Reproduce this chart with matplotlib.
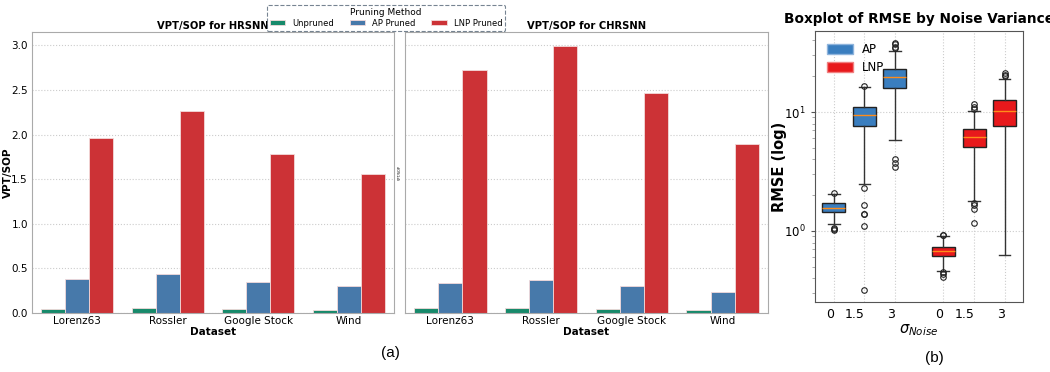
import matplotlib.pyplot as plt
import numpy as np
from matplotlib.patches import Patch

# ---- data: VPT/SOP bar charts ----
datasets = ["Lorenz63", "Rossler", "Google Stock", "Wind"]
methods = ["Unpruned", "AP Pruned", "LNP Pruned"]
hrsnn_unpruned = [0.05, 0.06, 0.045, 0.035]
hrsnn_ap = [0.38, 0.44, 0.345, 0.30]
hrsnn_lnp = [1.96, 2.27, 1.78, 1.56]
chrsnn_unpruned = [0.052, 0.059, 0.048, 0.033]
chrsnn_ap = [0.333, 0.37, 0.305, 0.23]
chrsnn_lnp = [2.72, 2.99, 2.47, 1.89]

# ---- data: RMSE boxplot ----
noise_labels = ["0", "1.5", "3"]
ap_q1 = [1.45, 7.6, 15.9]
ap_med = [1.57, 9.4, 19.8]
ap_q3 = [1.71, 11.1, 23.1]
ap_whislo = [1.15, 2.48, 5.8]
ap_whishi = [2.05, 16.1, 32.7]
ap_fliers = [[2.07, 1.07, 1.04, 1.02],
             [16.6, 2.31, 1.66, 1.38, 1.38, 1.10, 0.32],
             [38.2, 37.1, 35.5, 34.3, 4.05, 3.7, 3.47]]
lnp_q1 = [0.62, 5.05, 7.63]
lnp_med = [0.68, 6.16, 10.2]
lnp_q3 = [0.74, 7.24, 12.6]
lnp_whislo = [0.464, 1.80, 0.625]
lnp_whishi = [0.908, 10.3, 18.9]
lnp_fliers = [[0.93, 0.92, 0.452, 0.433, 0.413],
              [11.6, 11.1, 10.7, 1.73, 1.66, 1.53, 1.16],
              [21.4, 20.6, 19.9]]

W, H = 1050, 372
fig = plt.figure(figsize=(W / 100, H / 100), dpi=100)


def ax_rect(left, top, right, bottom):
    return [left / W, 1 - bottom / H, (right - left) / W, (bottom - top) / H]


bar_colors = ["#178a6b", "#4779aa", "#cc3236"]
x = np.arange(len(datasets))
bw = 0.8 / 3


def bar_panel(ax, series, title, tiny_ylabel=False):
    for i, (vals, c, lab) in enumerate(zip(series, bar_colors, methods)):
        ax.bar(x + (i - 1) * bw, vals, bw, color=c, edgecolor="#f3dada",
               linewidth=0.6, label=lab, zorder=2)
    ax.set_xlim(-0.5, 3.5)
    ax.set_ylim(0, 3.15)
    ax.set_yticks(np.arange(0, 3.01, 0.5))
    ax.set_xticks(x)
    ax.set_xticklabels(datasets, fontsize=7.5)
    ax.tick_params(axis="y", labelsize=7.5, length=0, pad=3)
    ax.tick_params(axis="x", length=0, pad=2)
    ax.grid(axis="y", ls=":", color="#cccccc", lw=0.8, zorder=0)
    for s in ax.spines.values():
        s.set_color("#aaaaaa")
    ax.set_xlabel("Dataset", fontsize=7.5, fontweight="bold", labelpad=1)
    ax.set_title(title, fontsize=7.2, fontweight="bold", pad=2)
    if tiny_ylabel:
        ax.set_ylabel("VPT/SOP", fontsize=2.5, labelpad=2)
        ax.tick_params(axis="y", labelleft=False)
    else:
        ax.set_ylabel("VPT/SOP", fontsize=7.5, fontweight="bold")
        ax.yaxis.set_label_coords(-19 / 362, 0.5)


ax1 = fig.add_axes(ax_rect(32, 32, 394, 313))
bar_panel(ax1, [hrsnn_unpruned, hrsnn_ap, hrsnn_lnp], "VPT/SOP for HRSNN")
ax2 = fig.add_axes(ax_rect(405, 32, 768, 313))
bar_panel(ax2, [chrsnn_unpruned, chrsnn_ap, chrsnn_lnp], "VPT/SOP for CHRSNN",
          tiny_ylabel=True)

handles, labels = ax1.get_legend_handles_labels()
leg = fig.legend(handles, labels, title="Pruning Method", ncol=3,
                 loc="upper center", bbox_to_anchor=(386 / W, 1 - 1 / H),
                 fontsize=6, title_fontsize=6.5, frameon=True, fancybox=True,
                 handlelength=1.9, handleheight=0.6, columnspacing=1.9,
                 borderpad=0.35, labelspacing=0.2, handletextpad=0.8)
leg.get_frame().set_linestyle("--")
leg.get_frame().set_edgecolor("#556677")
leg.get_frame().set_linewidth(0.8)

# ---- boxplot ----
ax3 = fig.add_axes(ax_rect(815, 31, 1023, 302))
ap_color = "#3a7ebf"
lnp_color = "#e8191c"
ap_pos = [1.0, 2.0, 3.0]
lnp_pos = [4.58, 5.6, 6.6]


def make_stats(q1, med, q3, lo, hi, fl):
    return [dict(q1=a, med=b, q3=c, whislo=d, whishi=e, fliers=f)
            for a, b, c, d, e, f in zip(q1, med, q3, lo, hi, fl)]


for stats, pos, col in [
    (make_stats(ap_q1, ap_med, ap_q3, ap_whislo, ap_whishi, ap_fliers), ap_pos, ap_color),
    (make_stats(lnp_q1, lnp_med, lnp_q3, lnp_whislo, lnp_whishi, lnp_fliers), lnp_pos, lnp_color),
]:
    ax3.bxp(stats, positions=pos, widths=0.75, patch_artist=True,
            boxprops=dict(facecolor=col, edgecolor="#222222", linewidth=1),
            medianprops=dict(color="#ff8c1a", linewidth=1),
            whiskerprops=dict(color="#333333", linewidth=1),
            capprops=dict(color="#333333", linewidth=1),
            flierprops=dict(marker="o", markerfacecolor="none",
                            markeredgecolor="#222222", markersize=4, markeredgewidth=0.8))

ax3.set_yscale("log")
ax3.set_ylim(0.253, 48)
ax3.set_xlim(0.38, 7.2)
ax3.set_xticks(ap_pos + lnp_pos)
ax3.set_xticklabels(noise_labels + noise_labels, ha="right", fontsize=9)
ax3.tick_params(axis="x", length=0, pad=4)
ax3.tick_params(axis="y", which="major", labelsize=8.5, length=3, color="#555555")
ax3.tick_params(axis="y", which="minor", length=2, color="#999999")
ax3.grid(True, which="major", ls=":", color="#cccccc", lw=0.8)
for s in ax3.spines.values():
    s.set_color("#555555")
ax3.set_xlabel(r"$\sigma_{Noise}$", fontsize=10.5, labelpad=1)
ax3.set_ylabel("RMSE (log)", fontsize=10.5, fontweight="bold")
ax3.yaxis.set_label_coords(-28 / 208, 0.5)
ax3.set_title("Boxplot of RMSE by Noise Variance", fontsize=9.8, fontweight="bold", pad=6)
ax3.legend(handles=[Patch(facecolor=ap_color, edgecolor="#8fb4dc", label="AP"),
                    Patch(facecolor=lnp_color, edgecolor="#f08080", label="LNP")],
           loc="upper left", frameon=False, fontsize=8.5, handlelength=2.2,
           handleheight=0.9, borderaxespad=0.6, labelspacing=0.45)

# ---- captions ----
fig.text(390 / W, 1 - 353 / H, "(a)", ha="center", va="center", fontsize=11,
         family="Liberation Sans")
fig.text(934 / W, 1 - 358 / H, "(b)", ha="center", va="center", fontsize=11,
         family="Liberation Sans")

fig.savefig("out.png", dpi=100)
plt.close(fig)
